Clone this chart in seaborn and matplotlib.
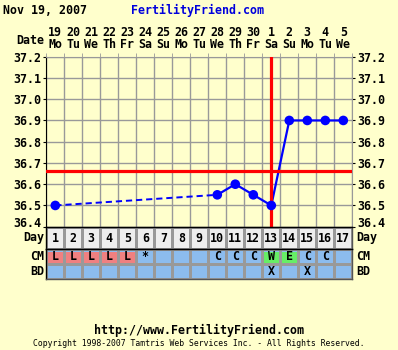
import numpy as np
import matplotlib
matplotlib.use("Agg")
import matplotlib.pyplot as plt
from matplotlib.colors import ListedColormap
from matplotlib.transforms import ScaledTranslation
import seaborn as sns

# ---- data ----
days = list(range(1, 18))
dates = ['19', '20', '21', '22', '23', '24', '25', '26', '27', '28', '29', '30',
         '1', '2', '3', '4', '5']
weekdays = ['Mo', 'Tu', 'We', 'Th', 'Fr', 'Sa', 'Su', 'Mo', 'Tu', 'We', 'Th',
            'Fr', 'Sa', 'Su', 'Mo', 'Tu', 'We']
temp_days = [1, 10, 11, 12, 13, 14, 15, 16, 17]
temps = [36.5, 36.55, 36.6, 36.55, 36.5, 36.9, 36.9, 36.9, 36.9]
cm = ['L', 'L', 'L', 'L', 'L', '*', '', '', '', 'C', 'C', 'C', 'W', 'E', 'C', 'C', '']
bd = ['', '', '', '', '', '', '', '', '', '', '', '', 'X', '', 'X', '', '']
yticks = [36.4, 36.5, 36.6, 36.7, 36.8, 36.9, 37.0, 37.1, 37.2]
coverline = 36.66
ovulation_day = 13
chart_date = 'Nov 19, 2007'

BG = '#ffffcc'
GRID = '#999999'
BLUE = '#0000ff'
RED = '#ff0000'
CELL_BLUE = '#8cbcee'
CM_COLORS = {'L': '#f08080', 'W': '#66ee66', 'E': '#66ee66'}

plt.rcParams['font.family'] = ['DejaVu Sans Mono']
plt.rcParams['font.weight'] = 'bold'
FS = 8.4

W, H = 398, 350
fig = plt.figure(figsize=(W / 100, H / 100), dpi=100, facecolor=BG)

def rect(x0, y0, x1, y1):
    return [x0 / W, 1 - y1 / H, (x1 - x0) / W, (y1 - y0) / H]

# ---- main temperature axes ----
ax = fig.add_axes(rect(46.3, 56.7, 352.3, 226.7))
ax.set_facecolor(BG)
ax.set_xlim(0.5, 17.5)
ax.set_ylim(36.4, 37.2)

# segments: solid when consecutive days, dashed across gaps
run_x, run_y = [temp_days[0]], [temps[0]]
for i in range(1, len(temp_days)):
    if temp_days[i] - temp_days[i - 1] > 1:
        if len(run_x) > 1:
            sns.lineplot(x=run_x, y=run_y, ax=ax, color=BLUE, lw=1.5, sort=False, zorder=3)
        sns.lineplot(x=[temp_days[i - 1], temp_days[i]], y=[temps[i - 1], temps[i]],
                     ax=ax, color=BLUE, lw=1.4, linestyle=(0, (3.2, 2.0)), sort=False, zorder=3)
        run_x, run_y = [temp_days[i]], [temps[i]]
    else:
        run_x.append(temp_days[i])
        run_y.append(temps[i])
if len(run_x) > 1:
    sns.lineplot(x=run_x, y=run_y, ax=ax, color=BLUE, lw=1.6, sort=False, zorder=3)

sns.scatterplot(x=temp_days, y=temps, ax=ax, color=BLUE, s=48, edgecolor='none', zorder=5)

ax.axhline(coverline, color=RED, lw=2.3, zorder=4)
ax.axvline(ovulation_day, color=RED, lw=2.3, zorder=4)

ax.set_yticks(yticks)
ax.set_yticklabels([f'{v:.1f}' for v in yticks])
ax.set_xticks(days)
ax.set_xticklabels([f'{d}\n{w}' for d, w in zip(dates, weekdays)])
ax.set_xticks([d - 0.5 for d in days] + [days[-1] + 0.5], minor=True)
ax.grid(False)
ax.grid(which='minor', axis='x', color=GRID, lw=1)
ax.grid(which='major', axis='y', color=GRID, lw=1)
ax.set_axisbelow(True)
ax.tick_params(axis='x', which='major', top=True, bottom=False, labeltop=True,
               labelbottom=False, length=0, pad=4, labelsize=FS)
ax.tick_params(axis='x', which='minor', top=True, bottom=False, length=3, color=GRID)
ax.tick_params(axis='y', left=True, right=True, labelleft=True, labelright=True,
               length=2, pad=1.5, labelsize=FS, color='black')
for lab in ax.get_xticklabels():
    lab.set_linespacing(0.95)
    lab.set_fontweight('bold')
for lab in ax.get_yticklabels():
    lab.set_fontweight('bold')
# lowest tick label sits a little above its gridline
t0 = ax.yaxis.get_major_ticks()[0]
shift = ScaledTranslation(0, 3.5 / 72, fig.dpi_scale_trans)
for lab in (t0.label1, t0.label2):
    lab.set_transform(lab.get_transform() + shift)
ax.set_xlabel('')
ax.set_ylabel('')
for s in ['top', 'right']:
    ax.spines[s].set_color(GRID)
for s in ['left', 'bottom']:
    ax.spines[s].set_color('black')

# ---- Day row ----
axd = fig.add_axes(rect(46.3, 226.7, 352.3, 249.3))
sns.heatmap(np.zeros((1, len(days))), ax=axd, cmap=ListedColormap(['#eeeeee']),
            vmin=0, vmax=1, cbar=False, annot=np.array([[str(d) for d in days]]), fmt='',
            annot_kws=dict(fontsize=FS, fontweight='bold', color='black'),
            linewidths=1, linecolor=GRID, xticklabels=False, yticklabels=False)

# ---- CM / BD rows ----
axc = fig.add_axes(rect(46.3, 249.3, 352.3, 279.3))
sns.heatmap(np.zeros((2, len(days))), ax=axc, cmap=ListedColormap([CELL_BLUE]),
            vmin=0, vmax=1, cbar=False, annot=np.array([cm, bd]), fmt='',
            annot_kws=dict(fontsize=FS, fontweight='bold', color='black'),
            linewidths=1, linecolor=GRID, xticklabels=False, yticklabels=False)
hl_x = [i + 0.5 for i, c in enumerate(cm) if c in CM_COLORS]
hl_c = [CM_COLORS[c] for c in cm if c in CM_COLORS]
axc.bar(hl_x, [0.78] * len(hl_x), width=0.84, bottom=0.15, color=hl_c, zorder=2)

for a in (axd, axc):
    for s in a.spines.values():
        s.set_visible(True)
        s.set_color('#555555')
        s.set_linewidth(1)
    a.spines['left'].set_color('black')
    a.spines['top'].set_color('black')

# row labels
row_labels = [(axd, 'Day', 0.5), (axc, 'CM', 0.25), (axc, 'BD', 0.75)]
for a, txt, yy in row_labels:
    a.text(-0.008, 1 - yy, txt, transform=a.transAxes, ha='right', va='center',
           fontsize=FS, fontweight='bold')
    a.text(1.012, 1 - yy, txt, transform=a.transAxes, ha='left', va='center',
           fontsize=FS, fontweight='bold')

# ---- header / footer texts ----
fig.text(3 / W, 1 - 10 / H, chart_date, ha='left', va='center', fontsize=FS, fontweight='bold')
fig.text(198 / W, 1 - 10 / H, 'FertilityFriend.com', ha='center', va='center',
         fontsize=FS, fontweight='bold', color='#0000dd')
fig.text(44 / W, 1 - 40 / H, 'Date', ha='right', va='center', fontsize=FS, fontweight='bold')
fig.text(199 / W, 1 - 330 / H, 'http://www.FertilityFriend.com', ha='center', va='center',
         fontsize=FS, fontweight='bold')
fig.text(199 / W, 1 - 344 / H,
         'Copyright 1998-2007 Tamtris Web Services Inc. - All Rights Reserved.',
         ha='center', va='center', fontsize=5.9, fontweight='normal')

fig.savefig('out.png', dpi=100, facecolor=BG)
